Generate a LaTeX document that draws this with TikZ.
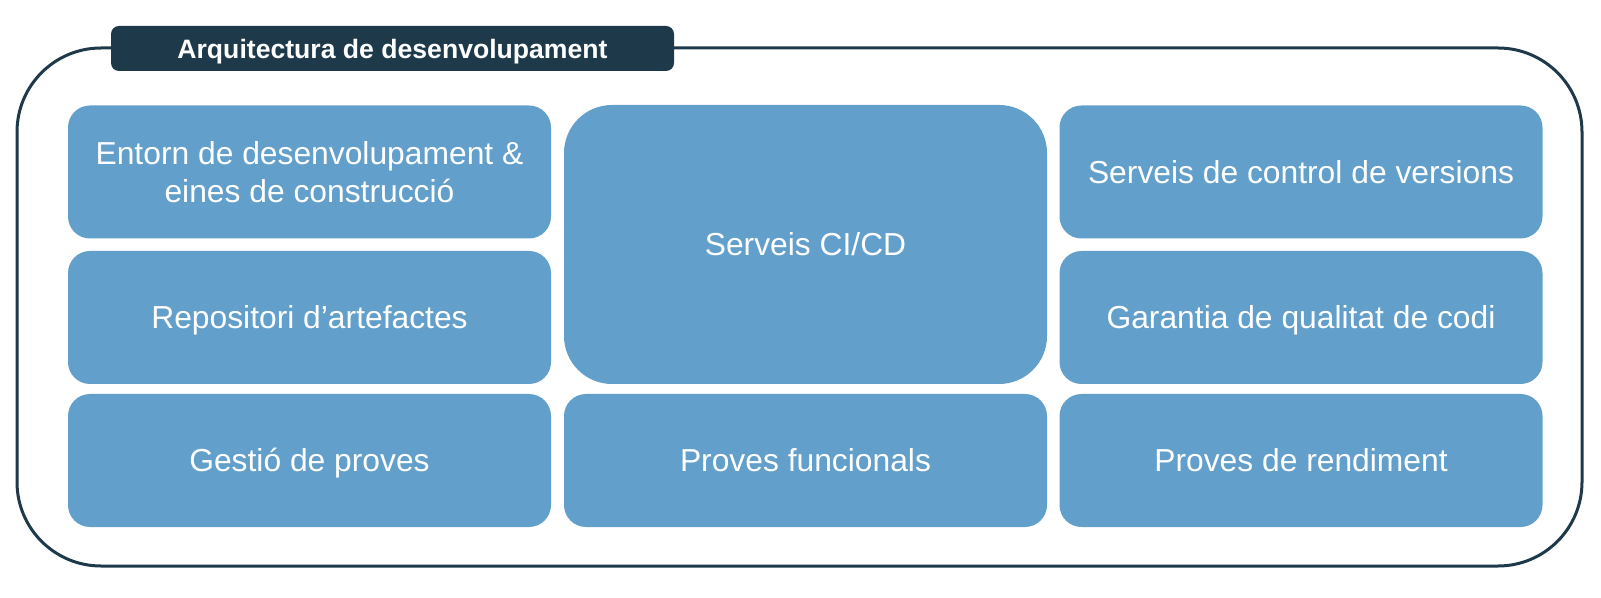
\documentclass[tikz,border=0pt]{standalone}
\usepackage{fontspec}
\setmainfont{Liberation Sans}
\definecolor{framecol}{HTML}{1E3A4A}
\definecolor{compcol}{HTML}{629FCA}
\tikzset{
  comp/.style={fill=compcol, text=white, rounded corners=11pt, inner sep=0pt,
    minimum width=241.5pt, minimum height=66.5pt, align=center,
    font=\fontsize{15.9}{18.6}\selectfont},
  oneline/.style={text height=11.6pt, text depth=0.2pt},
  titlebox/.style={fill=framecol, text=white, rounded corners=4pt, inner sep=0pt,
    minimum width=281.5pt, minimum height=22.5pt, text height=9.7pt, text depth=0.1pt,
    font=\fontsize{13.3}{15}\selectfont\bfseries},
}
\begin{document}
\begin{tikzpicture}[x=0.5pt,y=-0.5pt]
            \useasboundingbox (0,0) rectangle (1601,598);

            % outer frame
            \draw[framecol, line width=1.5pt, rounded corners=42pt] (17,48) rectangle (1582,566);
            \node[titlebox] (title) at (392.5,48.5) {Arquitectura de desenvolupament};

            % left column
            \node[comp, text depth=-1.8pt] (entorn) at ( 309.5,172  ) {Entorn de desenvolupament \&\\eines de construcci\'o};
            \node[comp, oneline] (repo)      at ( 309.5,317.5) {Repositori d’artefactes};
            \node[comp, oneline] (gestio)    at ( 309.5,460.5) {Gesti\'o de proves};

            % middle column
            \node[comp, oneline, minimum height=139.5pt, rounded corners=24pt] (cicd) at (805.5,244.5) {Serveis CI/CD};
            \node[comp, oneline] (funcional) at ( 805.5,460.5) {Proves funcionals};

            % right column
            \node[comp, oneline] (versions)  at (1301  ,172  ) {Serveis de control de versions};
            \node[comp, oneline] (qualitat)  at (1301  ,317.5) {Garantia de qualitat de codi};
            \node[comp, oneline] (rendiment) at (1301  ,460.5) {Proves de rendiment};
        \end{tikzpicture}
\end{document}
